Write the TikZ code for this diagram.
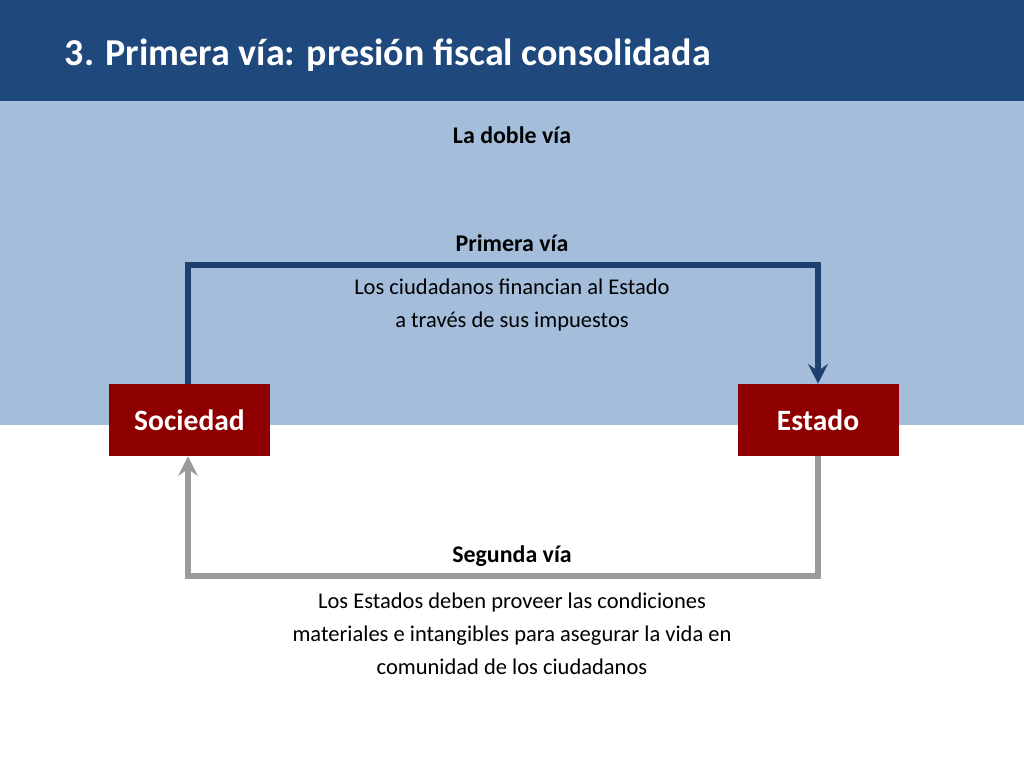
\documentclass[tikz,border=0pt]{standalone}
\usepackage{fontspec}
\setmainfont{Carlito}
\usetikzlibrary{arrows.meta,positioning}
\definecolor{titleblue}{HTML}{1F497D}
\definecolor{bandblue}{HTML}{A4BDDB}
\definecolor{boxred}{HTML}{8E0000}
\definecolor{pathgray}{HTML}{9A9A9A}
\definecolor{pathblue}{HTML}{1F3F6E}
\tikzset{
  actor/.style={fill=boxred,text=white,font=\bfseries\fontsize{21}{25}\selectfont,
    minimum width=161*0.025cm,minimum height=72*0.025cm,inner sep=0pt},
  heading/.style={font=\bfseries\fontsize{17}{20}\selectfont},
  body/.style={font=\fontsize{16}{23.5}\selectfont,align=center},
  via/.style={line width=4.3pt,-{Stealth[length=14pt,width=14pt,inset=5pt]}}
}
\begin{document}
\begin{tikzpicture}[x=0.025cm,y=-0.025cm]
\useasboundingbox (0,0) rectangle (1024,768);
\fill[bandblue] (0,100) rectangle (1024,425);
\fill[titleblue] (0,0) rectangle (1024,101);
\node[anchor=west,text=white,font=\bfseries\fontsize{27}{32}\selectfont] (title) at (60,55) {3. Primera vía: presión fiscal consolidada};
\node[heading] (doble) at (512,135) {La doble vía};
\node[actor] (soc) at (189.5,420) {Sociedad};
\node[actor] (est) at (818,420) {Estado};
\coordinate (tl) at (188,265);
\coordinate (tr) at (818,265);
\coordinate (bl) at (188,576);
\coordinate (br) at (818,576);
\draw[via,pathblue] (soc.north -| tl) -- (tl) -- (tr) -- (est.north);
\draw[via,pathgray] (est.south) -- (br) -- (bl) -- (soc.south -| bl);
\node[heading] (primera) at (512,243) {Primera vía};
\node[body] (ptext) at (512,305) {Los ciudadanos financian al Estado\\a través de sus impuestos};
\node[heading] (segunda) at (512,556) {Segunda vía};
\node[body] (stext) at (512,634) {Los Estados deben proveer las condiciones\\materiales e intangibles para asegurar la vida en\\comunidad de los ciudadanos};
\end{tikzpicture}
\end{document}
